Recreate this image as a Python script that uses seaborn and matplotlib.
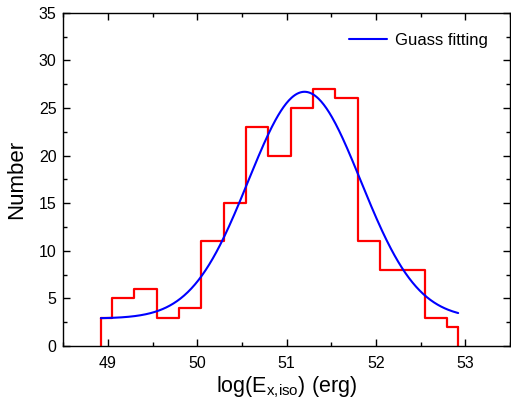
import numpy as np
import pandas as pd
import matplotlib
matplotlib.use("Agg")
import matplotlib.pyplot as plt
import seaborn as sns
from matplotlib.ticker import MultipleLocator

# Histogram (step-center) data
bin_centers = [48.92, 49.17, 49.42, 49.67, 49.92, 50.17, 50.42, 50.67, 50.92,
               51.17, 51.42, 51.67, 51.92, 52.17, 52.42, 52.67, 52.92]
counts = [3, 5, 6, 3, 4, 11, 15, 23, 20, 25, 27, 26, 11, 8, 8, 3, 2]

# Gauss fit parameters
fit_y0 = 2.9
fit_A = 23.8
fit_xc = 51.20
fit_w = 0.63

sns.set_theme(style="ticks")
plt.rcParams['font.family'] = ['Liberation Sans', 'DejaVu Sans']
plt.rcParams['text.color'] = 'black'
plt.rcParams['axes.labelcolor'] = 'black'
plt.rcParams['xtick.labelcolor'] = 'black'
plt.rcParams['ytick.labelcolor'] = 'black'

fig = plt.figure(figsize=(5.11, 4.17), dpi=100)
ax = fig.add_axes([0.124, 0.170, 0.874, 0.7995])

df = pd.DataFrame({"x": bin_centers, "y": counts})
sns.lineplot(data=df, x="x", y="y", drawstyle="steps-mid", color="#ff0000",
             lw=1.6, ax=ax, estimator=None, sort=False)
# vertical end lines down to zero
ax.plot([bin_centers[0], bin_centers[0]], [0, counts[0]], color="#ff0000", lw=1.6)
ax.plot([bin_centers[-1], bin_centers[-1]], [0, counts[-1]], color="#ff0000", lw=1.6)

xf = np.linspace(bin_centers[0], bin_centers[-1], 400)
yf = fit_y0 + fit_A * np.exp(-(xf - fit_xc) ** 2 / (2 * fit_w ** 2))
sns.lineplot(x=xf, y=yf, color="#0000ff", lw=1.5, ax=ax, label="Guass fitting")

ax.set_xlim(48.5, 53.5)
ax.set_ylim(0, 35)
ax.xaxis.set_major_locator(MultipleLocator(1))
ax.xaxis.set_minor_locator(MultipleLocator(0.5))
ax.yaxis.set_major_locator(MultipleLocator(5))
ax.yaxis.set_minor_locator(MultipleLocator(2.5))
ax.tick_params(which="both", direction="in", top=True, right=True,
               color="black", width=1, labelsize=11.5, labelcolor="black")
ax.tick_params(axis="x", pad=7)
ax.tick_params(axis="y", pad=5)
ax.tick_params(which="major", length=5)
ax.tick_params(which="minor", length=3)
for s in ax.spines.values():
    s.set_color("black")
    s.set_linewidth(1)

ax.set_xlabel(r"log(E$_{\mathregular{x{,}iso}}$) (erg)", fontsize=15.5, labelpad=3)
ax.set_ylabel("Number", fontsize=16, labelpad=8)
leg = ax.legend(loc="upper right", frameon=False, fontsize=12,
                handlelength=2.3, handletextpad=0.5, bbox_to_anchor=(0.985, 0.985))

fig.savefig("out.png", dpi=100)
